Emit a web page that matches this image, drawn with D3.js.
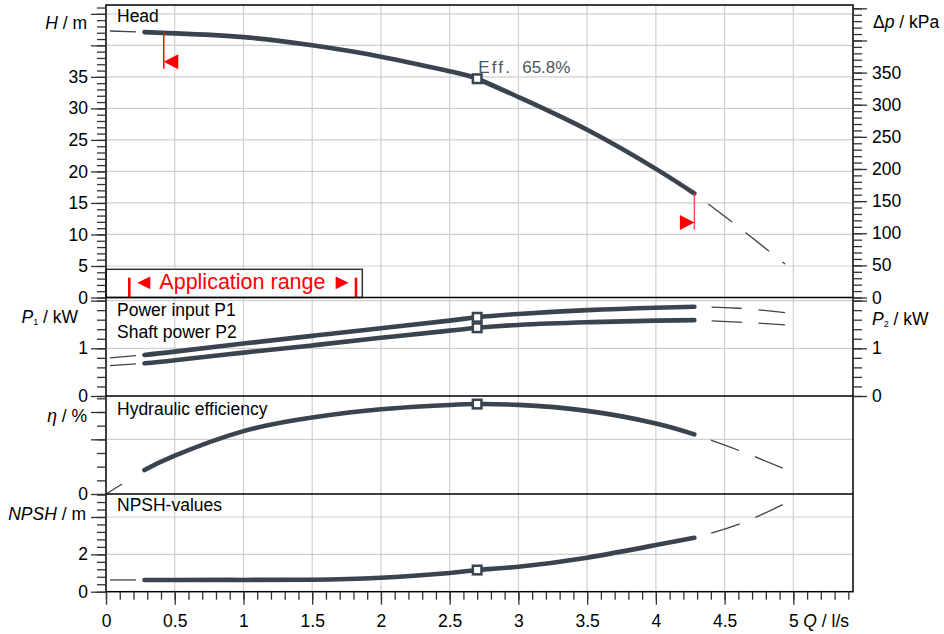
<!DOCTYPE html>
<html>
<head>
<meta charset="utf-8">
<script src="https://cdn.jsdelivr.net/npm/d3@7"></script>
<style>
  body { margin: 0; background: #fff; }
  svg { font-family: "Liberation Sans", Arial, sans-serif; }
</style>
</head>
<body>
<svg id="chart" width="944" height="634"></svg>
<script>
// pump curve points (Q in l/s)
var flowQ    = [0.28, 0.5, 1.0, 1.5, 2.0, 2.5, 2.7, 3.0, 3.5, 4.0, 4.28];
var headH    = [42.1, 41.9, 41.3, 40.0, 38.2, 35.9, 34.7, 31.8, 26.6, 20.4, 16.5];
var powerP1  = [0.86, 0.93, 1.10, 1.26, 1.42, 1.58, 1.65, 1.72, 1.80, 1.85, 1.87];
var powerP2  = [0.685, 0.75, 0.91, 1.06, 1.22, 1.37, 1.43, 1.49, 1.545, 1.58, 1.59];
var effEta   = [17.5, 28.0, 46.0, 56.0, 62.0, 65.1, 65.8, 65.2, 60.8, 51.6, 43.6];
var npshR    = [0.63, 0.63, 0.63, 0.64, 0.75, 1.00, 1.16, 1.34, 1.82, 2.50, 2.89];

// dashed parts outside the allowed range
var extLeftQ   = [0, 0.28];
var headLeft   = [42.3, 42.1];
var p1Left     = [0.79, 0.86];
var p2Left     = [0.63, 0.685];
var effLeft    = [0, 17.5];
var npshLeft   = [0.63, 0.63];
var extRightQ  = [4.28, 4.6, 4.94];
var headRight  = [16.5, 11.2, 5.3];
var p1Right    = [1.87, 1.84, 1.75];
var p2Right    = [1.59, 1.55, 1.49];
var effRight   = [43.6, 32.0, 18.2];
var npshRight  = [2.89, 3.60, 4.72];

// duty point and flow limits
var dutyQ = 2.7;
var dutyEff = 65.8;
var limitQ = [0.42, 4.28];
var limitH = [42.0, 16.5];

// tick values
var qMajor = d3.range(0, 11).map(function(i) { return i * 0.5; });
var qMinor = d3.range(0, 55).map(function(i) { return i / 10; });
var headMajor = d3.range(0, 50, 5), headMinor = d3.range(0, 47), headLabels = d3.range(0, 40, 5);
var kpaMajor = d3.range(0, 500, 50), kpaMinor = d3.range(0, 460, 10), kpaLabels = d3.range(0, 400, 50);
var powMajor = [0, 1, 2], powMinor = d3.range(0, 11).map(function(i) { return i * 0.2; }), powLabels = [0, 1];
var effMajor = [0, 40, 60], effMinor = d3.range(0, 80, 10), effLabels = [0];
var npshMajor = [0, 2, 4], npshMinor = d3.range(0, 14).map(function(i) { return i * 0.4; }), npshLabels = [0, 2];
var headGrid = d3.range(5, 50, 5), powGrid = [1, 2], effGrid = [40], npshGrid = [2, 4];

var svg = d3.select("#chart"),
    left = 106, right = 853,
    ink = "#3a444e", gridColor = "#cfcfcf";

var x = d3.scaleLinear().domain([0, 5.434]).range([left, right]);
var yHead = d3.scaleLinear().domain([0, 46.4]).range([297.5, 5]);
var yKpa  = d3.scaleLinear().domain([0, 46.4 * 9.81]).range([297.5, 5]);
var yPow  = d3.scaleLinear().domain([0, 2.065]).range([396, 297.5]);
var yEff  = d3.scaleLinear().domain([0, 71.7]).range([494, 396]);
var yNpsh = d3.scaleLinear().domain([0, 5.23]).range([591.7, 494]);

svg.append("rect").attr("width", 944).attr("height", 634).attr("fill", "#fff");

// grid
var grid = svg.append("g").attr("stroke", gridColor).attr("stroke-width", 1.2);
grid.selectAll(".vg").data(qMajor.slice(1))
  .enter().append("line")
    .attr("x1", function(d) { return x(d); })
    .attr("x2", function(d) { return x(d); })
    .attr("y1", yHead.range()[1])
    .attr("y2", yNpsh.range()[0]);

[[headGrid, yHead], [powGrid, yPow], [effGrid, yEff], [npshGrid, yNpsh]].forEach(function(p) {
  grid.selectAll(null).data(p[0])
    .enter().append("line")
      .attr("x1", left).attr("x2", right)
      .attr("y1", function(d) { return p[1](d); })
      .attr("y2", function(d) { return p[1](d); });
});

// application range legend box
var box = svg.append("g");
box.append("rect")
    .attr("x", left).attr("y", 269.3)
    .attr("width", 256.3).attr("height", 28.2)
    .attr("fill", "#fff").attr("stroke", "#333").attr("stroke-width", 1.5);
box.append("text")
    .attr("x", 243).attr("y", 289.3)
    .attr("text-anchor", "middle")
    .attr("font-size", 21.5)
    .attr("fill", "#ff0000")
    .text("\u25C4 Application range \u25BA");
[129.3, 356].forEach(function(bx) {
  box.append("line")
      .attr("x1", bx).attr("x2", bx)
      .attr("y1", 277.7).attr("y2", 297)
      .attr("stroke", "#ff0000").attr("stroke-width", 2.6);
});

// curves
var series = [
  {q: flowQ, v: headH, y: yHead, l: headLeft, r: headRight},
  {q: flowQ, v: powerP1, y: yPow, l: p1Left, r: p1Right},
  {q: flowQ, v: powerP2, y: yPow, l: p2Left, r: p2Right},
  {q: flowQ, v: effEta, y: yEff, l: effLeft, r: effRight},
  {q: flowQ, v: npshR, y: yNpsh, l: npshLeft, r: npshRight}
];

function path(qs, vs, ys) {
  return d3.line()
      .x(function(d, i) { return x(qs[i]); })
      .y(function(d) { return ys(d); })
      .curve(d3.curveNatural)(vs);
}

var curves = svg.append("g").attr("fill", "none").attr("stroke", ink);
series.forEach(function(s) {
  curves.append("path")
      .attr("d", path(extLeftQ, s.l, s.y))
      .attr("stroke-width", 1.3)
      .attr("stroke-dasharray", s.v === effEta ? "19,200" : "26,200")
      .attr("stroke-dashoffset", s.v === effEta ? 0 : 222);
  curves.append("path")
      .attr("d", path(extRightQ, s.r, s.y))
      .attr("stroke-width", 1.3)
      .attr("stroke-dasharray", "30,17")
      .attr("stroke-dashoffset", 29.5);
  curves.append("path")
      .attr("d", path(s.q, s.v, s.y))
      .attr("stroke-width", 4.6)
      .attr("stroke-linecap", "round");
});

// duty point markers
var di = flowQ.indexOf(dutyQ);
svg.append("g").selectAll("rect")
    .data(series)
    .enter().append("rect")
      .attr("x", function(s) { return x(s.q[di]) - 4.3; })
      .attr("y", function(s) { return s.y(s.v[di]) - 4.3; })
      .attr("width", 8.6).attr("height", 8.6)
      .attr("fill", "#fff").attr("stroke", ink).attr("stroke-width", 2.5);

svg.append("text")
    .attr("x", x(dutyQ) + 1).attr("y", yHead(headH[di]) - 6)
    .attr("font-size", 17).attr("fill", "#4b5560")
    .call(function(t) {
      t.append("tspan").attr("letter-spacing", 2.2).text("Eff.");
      t.append("tspan").attr("dx", 10).text(dutyEff + "%");
    });

// min / max flow indicators
var lim = svg.append("g").attr("fill", "#ff0000");
limitQ.forEach(function(q, i) {
  var px = x(q), py = yHead(limitH[i]), s = i == 0 ? 1 : -1;
  lim.append("line")
      .attr("x1", px).attr("x2", px)
      .attr("y1", py).attr("y2", py + 36)
      .attr("stroke", i == 0 ? "#ff0000" : "#ff5050").attr("stroke-width", 1.5);
  lim.append("path")
      .attr("d", "M" + px + "," + (py + 29) + "L" + (px + s * 14.5) + "," + (py + 21.5) +
                 "L" + (px + s * 14.5) + "," + (py + 36.5) + "Z");
});

// frame
var frame = svg.append("g").attr("stroke", "#000").attr("stroke-width", 1.5);
frame.append("rect")
    .attr("x", left).attr("y", yHead.range()[1])
    .attr("width", right - left).attr("height", yNpsh.range()[0] - yHead.range()[1])
    .attr("fill", "none");
[yHead.range()[0], yPow.range()[0], yEff.range()[0]].forEach(function(yy) {
  frame.append("line").attr("x1", left).attr("x2", right).attr("y1", yy).attr("y2", yy);
});

// axes
function fmt(d) { return String(+d.toFixed(2)); }

function drawAxis(scale, pos, side, majors, minors, labels) {
  var make = side == "left" ? d3.axisLeft : side == "right" ? d3.axisRight : d3.axisBottom;
  var tr = side == "bottom" ? "translate(0," + pos + ")" : "translate(" + pos + ",0)";
  var gMin = svg.append("g")
      .attr("transform", tr)
      .call(make(scale).tickValues(minors).tickSize(side == "bottom" ? 8 : 9).tickFormat(""));
  var gMaj = svg.append("g")
      .attr("transform", tr)
      .call(make(scale).tickValues(majors)
        .tickSize(side == "bottom" ? 13 : side == "right" ? 14 : 15)
        .tickPadding(side == "bottom" ? 9.6 : side == "right" ? 5 : 3)
        .tickFormat(function(d) { return labels.indexOf(d) >= 0 ? fmt(d) : ""; }));
  gMaj.attr("font-family", "Liberation Sans, Arial, sans-serif")
      .attr("font-size", 17.5);
  [gMin, gMaj].forEach(function(g) {
    g.select(".domain").remove();
    g.selectAll("line").attr("stroke", "#333").attr("stroke-width", 1.3);
    g.selectAll("text").attr("fill", "#000");
  });
}

drawAxis(yHead, left, "left", headMajor, headMinor, headLabels);
drawAxis(yKpa, right, "right", kpaMajor, kpaMinor, kpaLabels);
drawAxis(yPow, left, "left", powMajor, powMinor, powLabels);
drawAxis(yPow, right, "right", powMajor, powMinor, powLabels);
drawAxis(yEff, left, "left", effMajor, effMinor, effLabels);
drawAxis(yNpsh, left, "left", npshMajor, npshMinor, npshLabels);
drawAxis(x, yNpsh.range()[0], "bottom", qMajor, qMinor, qMajor);

// axis titles
function title(px, py, anchor, parts) {
  var t = svg.append("text")
      .attr("x", px).attr("y", py)
      .attr("text-anchor", anchor)
      .attr("font-size", 17.5);
  parts.forEach(function(p) {
    var s = t.append("tspan").text(p.t);
    if (p.i) s.attr("font-style", "italic");
    if (p.sub) s.attr("font-size", 9).attr("dy", 2);
    if (p.up) s.attr("dy", -2);
  });
}
title(87, 29.3, "end", [{t: "H", i: 1}, {t: " / m"}]);
title(873, 28, "start", [{t: "\u0394"}, {t: "p", i: 1}, {t: " / kPa"}]);
title(78, 323.3, "end", [{t: "P", i: 1}, {t: "1", sub: 1}, {t: " / kW", up: 1}]);
title(872, 325, "start", [{t: "P", i: 1}, {t: "2", sub: 1}, {t: " / kW", up: 1}]);
title(87, 421.7, "end", [{t: "\u03B7", i: 1}, {t: " / %"}]);
title(86, 520, "end", [{t: "NPSH", i: 1}, {t: " / m"}]);
title(x(5) + 10, 626.7, "start", [{t: "Q", i: 1}, {t: " / l/s"}]);

// panel labels
var panelLabels = [["Head", 21.7], ["Power input P1", 316], ["Shaft power P2", 338],
                   ["Hydraulic efficiency", 415], ["NPSH-values", 510.7]];
svg.append("g").selectAll("text")
    .data(panelLabels)
    .enter().append("text")
      .attr("x", 117)
      .attr("y", function(d) { return d[1]; })
      .attr("font-size", 17.5)
      .text(function(d) { return d[0]; });
</script>
</body>
</html>
